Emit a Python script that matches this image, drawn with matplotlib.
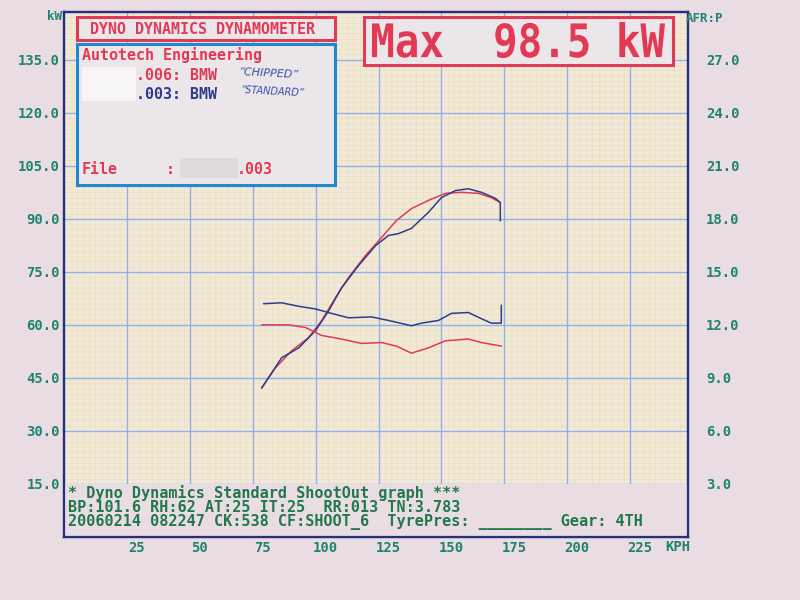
import numpy as np
import matplotlib.pyplot as plt
from matplotlib.patches import Rectangle, PathPatch
from matplotlib.textpath import TextPath
from matplotlib.font_manager import FontProperties
from matplotlib.transforms import ScaledTranslation, Affine2D

# power runs, speed in kph, power in kW
chipped_kph = [78.6, 84.1, 90.5, 97.2, 102.4, 107.9, 113.1, 119.8, 126.2, 132.1,
               138.1, 144.8, 151.6, 157.9, 164.7, 169.8, 173.4]
chipped_kw = [42.2, 47.9, 52.7, 56.4, 61.2, 67.7, 73.4, 79.6, 84.7, 89.5,
              92.9, 95.2, 97.2, 97.5, 97.2, 96.0, 94.6]

standard_kph = [78.6, 86.5, 93.3, 100.0, 105.2, 110.3, 117.1, 123.8, 129.0, 132.9,
                138.1, 144.8, 150.0, 155.6, 160.7, 165.9, 171.4, 173.4, 173.4]
standard_kw = [42.2, 50.7, 53.5, 58.4, 64.0, 70.5, 76.8, 82.4, 85.3, 85.8,
               87.3, 91.8, 96.0, 98.0, 98.5, 97.5, 95.8, 94.6, 89.5]

# air/fuel ratio traces
chipped_afr_kph = [78.6, 89.3, 96.0, 102.4, 110.3, 118.3, 126.2, 132.1, 138.1,
                   144.8, 151.6, 160.7, 165.9, 169.8, 173.8]
chipped_afr = [12.0, 12.0, 11.85, 11.4, 11.2, 10.95, 11.0, 10.8, 10.4,
               10.7, 11.1, 11.2, 11.0, 10.9, 10.8]

standard_afr_kph = [79.4, 86.5, 93.3, 100.0, 106.3, 113.1, 122.2, 129.0, 138.1,
                    142.1, 148.8, 154.0, 160.7, 165.9, 169.8, 173.8, 173.8]
standard_afr = [13.2, 13.25, 13.05, 12.9, 12.65, 12.4, 12.45, 12.25, 11.95,
                12.1, 12.25, 12.65, 12.7, 12.35, 12.1, 12.1, 13.1]

kw_ticks = [15, 30, 45, 60, 75, 90, 105, 120, 135]
afr_ticks = [3, 6, 9, 12, 15, 18, 21, 24, 27]
kph_ticks = [25, 50, 75, 100, 125, 150, 175, 200, 225]

paper = '#e9dde3'
cream = '#f1e8dc'
yellow = '#eedfa8'
gridblue = '#8fb2e2'
frame = '#26307c'
teal = '#1f8272'
green = '#21784c'
red = '#e23a55'
navy = '#2f3c8c'
boxblue = '#1f8ad2'
boxfill = '#ebe6ea'
mono = 'DejaVu Sans Mono'


def fx(x):
    return x / 800


def fy(y):
    return 1 - y / 600


fig = plt.figure(figsize=(8, 6), dpi=100, facecolor=paper)
ax = fig.add_axes([fx(64), fy(537), (688 - 64) / 800, (537 - 12) / 600])
ax.set_facecolor(cream)
ax.set_xlim(0, 248)
ax.set_ylim(0, 148.5)

# grid
for v in np.arange(2.5, 248, 2.5):
    ax.plot([v, v], [15, 148.5], color=yellow, lw=0.4, zorder=1)
for v in np.arange(16.5, 148.5, 1.5):
    ax.plot([0, 248], [v, v], color=yellow, lw=0.4, zorder=1)
for v in kph_ticks:
    ax.plot([v, v], [15, 148.5], color=gridblue, lw=1.0, zorder=2)
for v in kw_ticks:
    ax.plot([0, 248], [v, v], color=gridblue, lw=1.0, zorder=2)

# footer panel
ax.add_patch(Rectangle((0, 0), 248, 15, facecolor=paper, edgecolor='none', zorder=3))

ax.plot(chipped_kph, chipped_kw, color=red, lw=1.1, zorder=5)
ax.plot(standard_kph, standard_kw, color=navy, lw=1.1, zorder=6)

ax2 = ax.twinx()
ax2.set_ylim(0, 29.7)
ax2.plot(chipped_afr_kph, chipped_afr, color=red, lw=1.1, zorder=5)
ax2.plot(standard_afr_kph, standard_afr, color=navy, lw=1.1, zorder=6)

for a in (ax, ax2):
    for s in a.spines.values():
        s.set_color(frame)
        s.set_linewidth(1.6)

ax.set_xticks(kph_ticks)
ax.set_xticklabels([str(v) for v in kph_ticks], family=mono, weight='bold',
                   size=10, color=teal)
ax.set_yticks(kw_ticks)
ax.set_yticklabels([f'{v:.1f}' for v in kw_ticks], family=mono, weight='bold',
                   size=10, color=teal)
ax2.set_yticks(afr_ticks)
ax2.set_yticklabels([f'{v:.1f}' for v in afr_ticks], family=mono, weight='bold',
                    size=10, color=teal)
ax.tick_params(axis='both', length=0, pad=3)
ax2.tick_params(axis='y', length=0, pad=13)
shift = ScaledTranslation(10 / 100, 0, fig.dpi_scale_trans)
for lab in ax.get_xticklabels():
    lab.set_transform(lab.get_transform() + shift)

fig.text(fx(62), fy(16), 'kW', family=mono, weight='bold', size=9, color=teal,
         ha='right', va='center')
fig.text(fx(686), fy(19), 'AFR:P', family=mono, weight='bold', size=9, color=teal,
         ha='left', va='center')
fig.text(fx(665), fy(547), 'KPH', family=mono, weight='bold', size=10, color=teal,
         ha='left', va='center')

# header boxes
fig.add_artist(Rectangle((fx(77), fy(40)), (335 - 77) / 800, 23 / 600,
                         transform=fig.transFigure, facecolor=boxfill,
                         edgecolor=red, lw=2.2))
fig.text(fx(203), fy(29), 'DYNO DYNAMICS DYNAMOMETER', family=mono, weight='bold',
         size=10.8, color=red, ha='center', va='center')

fig.add_artist(Rectangle((fx(77), fy(185)), (335 - 77) / 800, 141 / 600,
                         transform=fig.transFigure, facecolor=boxfill,
                         edgecolor=boxblue, lw=2.2))
fig.text(fx(82), fy(55), 'Autotech Engineering', family=mono, weight='bold',
         size=10.8, color=red, ha='left', va='center')
fig.add_artist(Rectangle((fx(82), fy(101)), 54 / 800, 34 / 600,
                         transform=fig.transFigure, facecolor='#f7f5f6',
                         edgecolor='none'))
fig.text(fx(136), fy(76), '.006: BMW', family=mono, weight='bold', size=10.8,
         color=red, ha='left', va='center')
fig.text(fx(136), fy(94), '.003: BMW', family=mono, weight='bold', size=10.8,
         color=navy, ha='left', va='center')
fig.text(fx(238), fy(74), '\u201cCHIPPED\u201d', style='italic', size=8,
         color='#3a4fa8', ha='left', va='center', rotation=-3)
fig.text(fx(241), fy(92), '\u201cSTANDARD\u201d', style='italic', size=7,
         color='#3a4fa8', ha='left', va='center', rotation=-3)
fig.text(fx(82), fy(170), 'File', family=mono, weight='bold', size=10.8,
         color=red, ha='left', va='center')
fig.text(fx(166), fy(170), ':', family=mono, weight='bold', size=10.8,
         color=red, ha='left', va='center')
fig.add_artist(Rectangle((fx(180), fy(178)), 58 / 800, 20 / 600,
                         transform=fig.transFigure, facecolor='#dedadc',
                         edgecolor='none'))
fig.text(fx(237), fy(170), '.003', family=mono, weight='bold', size=10.8,
         color=red, ha='left', va='center')

fig.add_artist(Rectangle((fx(364), fy(65)), (673 - 364) / 800, 48 / 600,
                         transform=fig.transFigure, facecolor=boxfill,
                         edgecolor=red, lw=2.2))
# tall printer font: stretch the glyphs to fill the box
tp = TextPath((0, 0), 'Max  98.5 kW', size=10,
              prop=FontProperties(family=mono, weight='bold'))
ext = tp.get_extents()
sx = (665 - 372) / ext.width
sy = 36 / ext.height
tr = (Affine2D().translate(-ext.x0, -ext.y0).scale(sx, sy)
      .translate(372, 600 - 58).scale(1 / 800, 1 / 600) + fig.transFigure)
fig.add_artist(PathPatch(tp, transform=tr, facecolor=red, edgecolor='none'))

# footer text
footer = ['* Dyno Dynamics Standard ShootOut graph ***',
          'BP:101.6 RH:62 AT:25 IT:25  RR:013 TN:3.783',
          '20060214 082247 CK:538 CF:SHOOT_6  TyrePres: ________ Gear: 4TH']
for i, line in enumerate(footer):
    fig.text(fx(68), fy(493 + 14.5 * i), line, family=mono, weight='bold',
             size=10.9, color=green, ha='left', va='center')

fig.savefig('out.png', dpi=100, facecolor=paper)
